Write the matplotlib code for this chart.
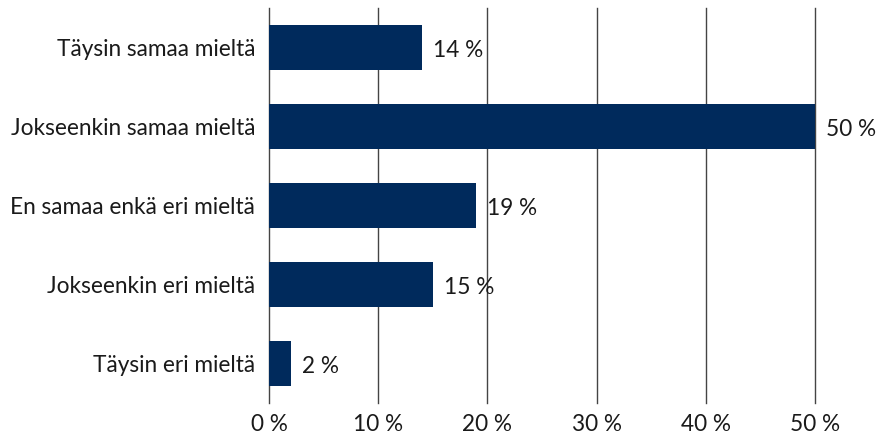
import matplotlib.pyplot as plt

# Survey answers (share of respondents, %)
categories = ["Täysin samaa mieltä", "Jokseenkin samaa mieltä", "En samaa enkä eri mieltä",
              "Jokseenkin eri mieltä", "Täysin eri mieltä"]
values = [14, 50, 19, 15, 2]
xticks = [0, 10, 20, 30, 40, 50]
xtick_labels = ["0 %", "10 %", "20 %", "30 %", "40 %", "50 %"]

plt.rcParams['font.family'] = ['Lato', 'DejaVu Sans']
fs = 16.3

fig = plt.figure(figsize=(8.8, 4.38), dpi=100)
ax = fig.add_axes([269 / 880, 1 - 403 / 438, (815 - 269) / 880, 395 / 438])

pos = list(range(len(categories)))
ax.barh(pos, values, height=0.58, color='#002a5c', zorder=3)
for p, v in zip(pos, values):
    ax.text(v + 1.0, p + 0.04, f"{v} %", va='center', ha='left', fontsize=fs, color='#1a1a1a')

ax.set_xlim(0, 50)
ax.set_ylim(len(categories) - 0.5, -0.5)
ax.set_yticks(pos)
ax.set_yticklabels(categories, fontsize=fs, color='#1a1a1a')
ax.set_xticks(xticks)
ax.set_xticklabels(xtick_labels, fontsize=fs, color='#1a1a1a')
ax.tick_params(axis='both', length=0)
ax.tick_params(axis='y', pad=10)
ax.tick_params(axis='x', pad=8)
for s in ax.spines.values():
    s.set_visible(False)
# vertical gridlines, incl. the zero line
for t in xticks:
    ax.axvline(t, color='#444444', linewidth=1.0, zorder=1, clip_on=False)

fig.savefig("out.png", dpi=100)
